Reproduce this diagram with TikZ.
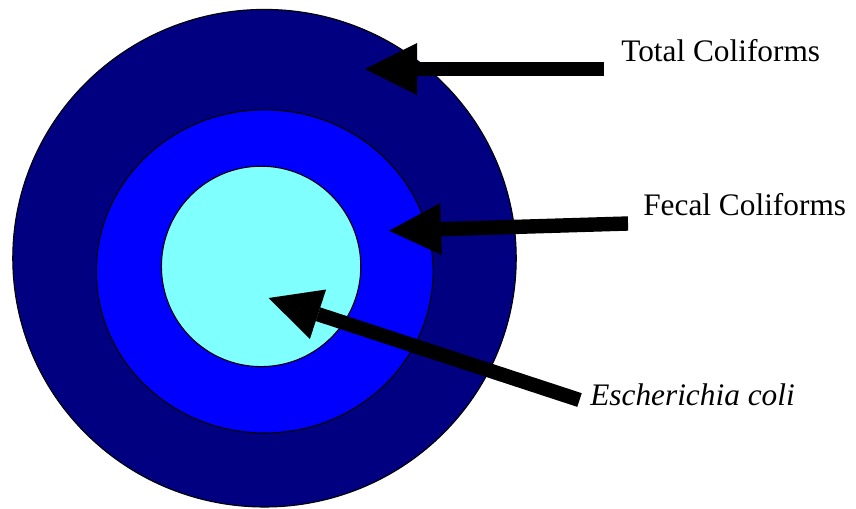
\documentclass[tikz,border=0pt]{standalone}
\usepackage{fontspec}
\setmainfont{Liberation Serif}
\usetikzlibrary{shapes.geometric,arrows.meta}
\definecolor{navyring}{RGB}{0,0,128}
\definecolor{bluering}{RGB}{0,0,255}
\definecolor{cyancore}{RGB}{128,255,255}
\begin{document}
\begin{tikzpicture}[x=0.75pt,y=-0.75pt,
  ring/.style={ellipse,draw=black,line width=0.8pt,inner sep=0pt,outer sep=0pt},
  label/.style={font=\fontsize{23.5pt}{28pt}\selectfont,inner sep=0pt,anchor=base west},
  pointer/.style={line width=10.8pt,draw=black,
    -{Triangle[length=39pt,width=39pt,line width=0pt]}}]
\useasboundingbox (0,0) rectangle (856,508);
\node[ring,fill=navyring,minimum width=377.6pt,minimum height=373.2pt] (outer) at (264.5,258.2) {};
\node[ring,fill=bluering,minimum width=252.6pt,minimum height=242.4pt] (middle) at (264.7,271.4) {};
\node[ring,fill=cyancore,minimum width=149.5pt,minimum height=150.3pt] (inner) at (261.1,266.4) {};
\node[label] (total) at (621,61) {Total Coliforms};
\node[label] (fecal) at (643,215.7) {Fecal Coliforms};
\node[label] (ecoli) at (590,405) {\itshape Escherichia coli};
\coordinate (totalstart) at (604,69);
\coordinate (totaltip) at (365,69);
\coordinate (fecalstart) at (628,223.5);
\coordinate (fecaltip) at (389,230.7);
\coordinate (ecolistart) at (579.5,400);
\coordinate (ecolitip) at (268.6,298);
\draw[pointer] (totalstart) -- (totaltip);
\draw[pointer] (fecalstart) -- (fecaltip);
\draw[pointer] (ecolistart) -- (ecolitip);
\end{tikzpicture}
\end{document}
